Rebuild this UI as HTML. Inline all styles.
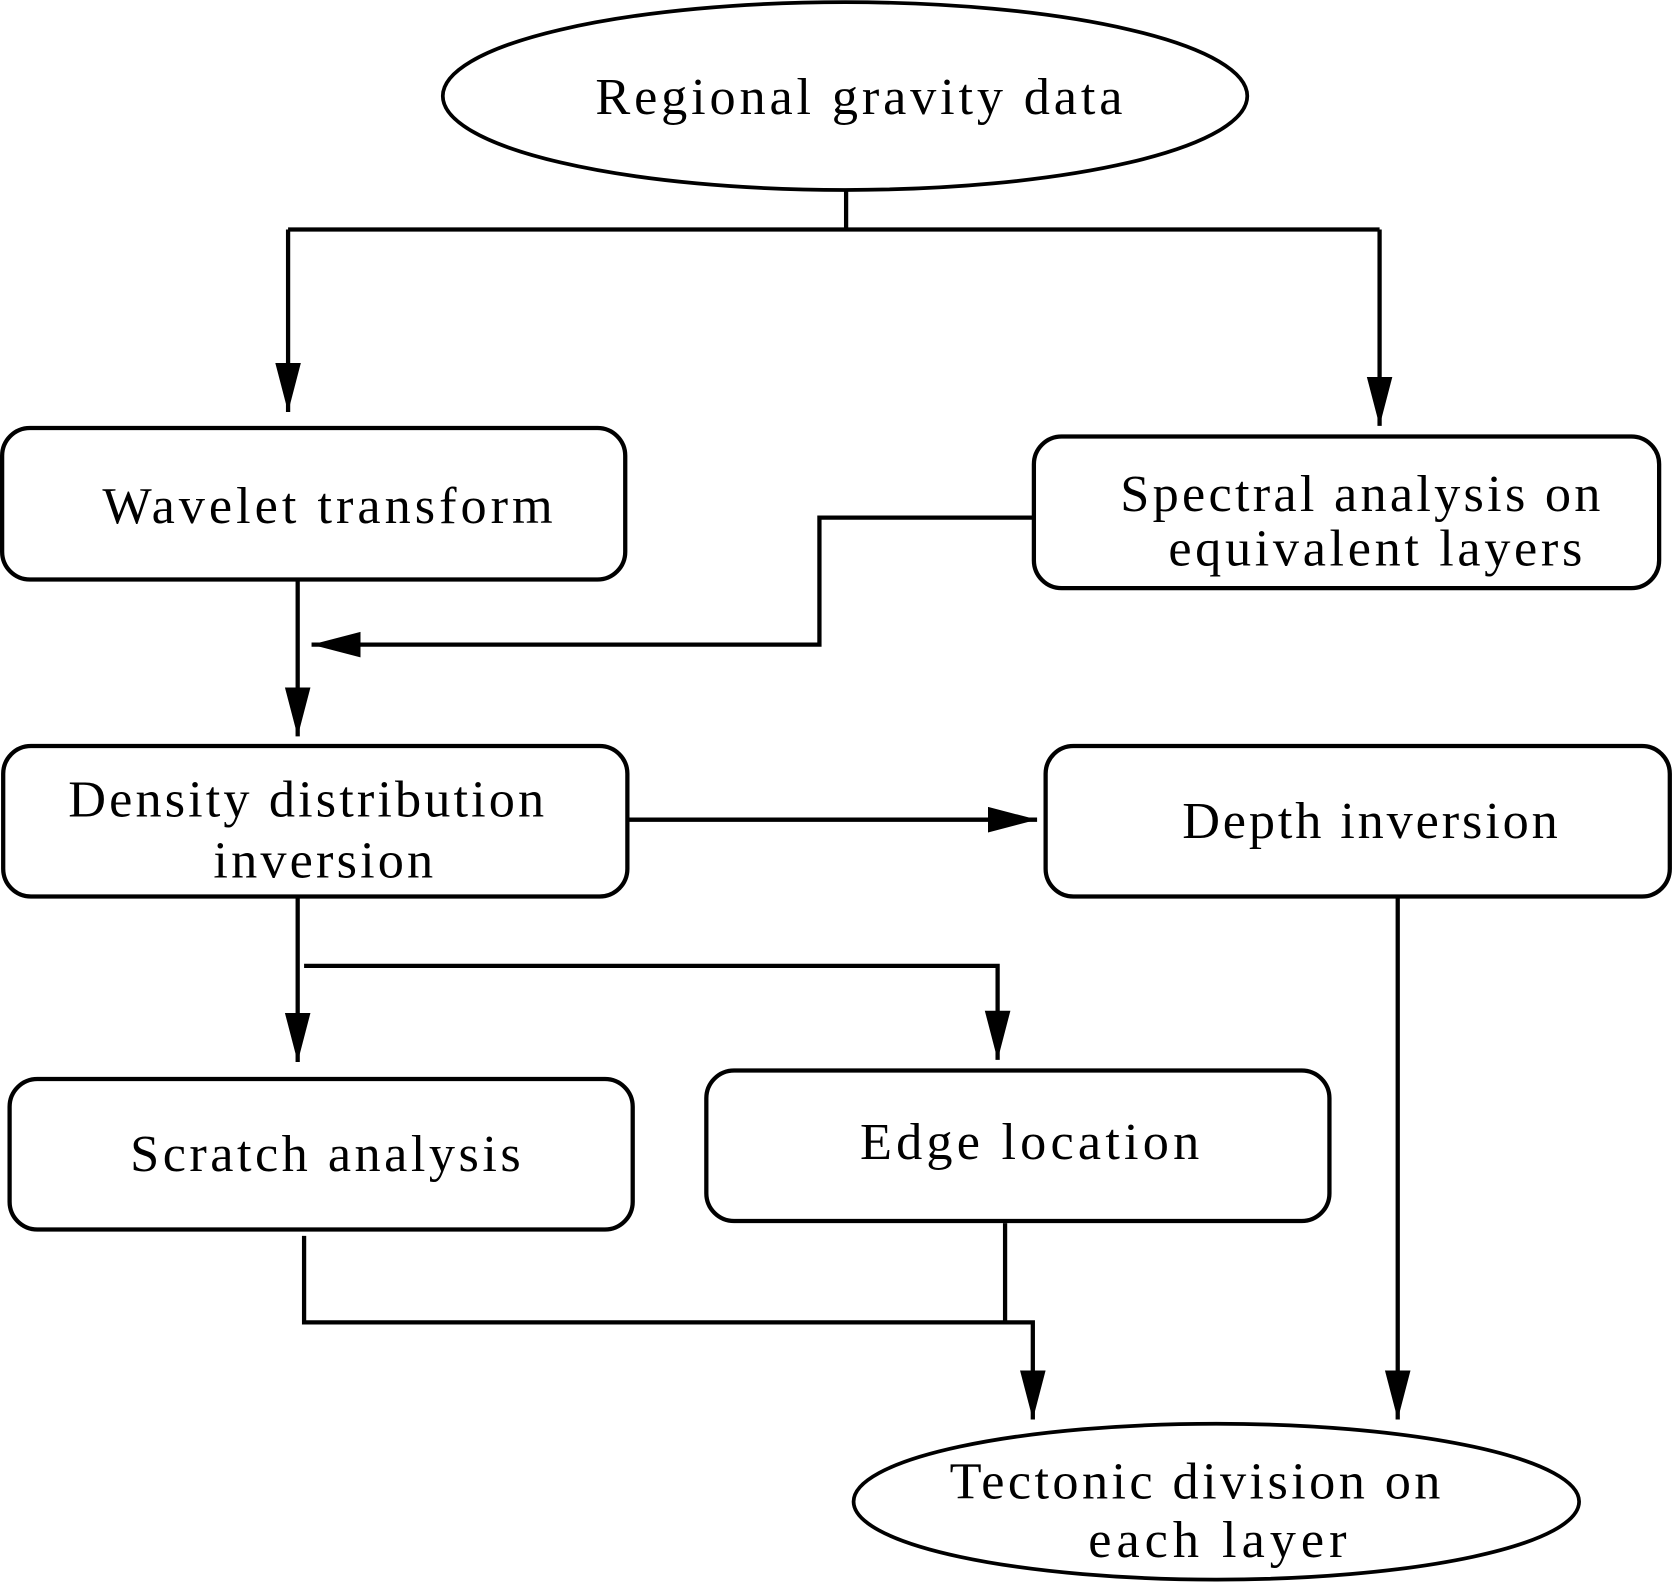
<!DOCTYPE html>
<html><head><style>html,body{margin:0;padding:0;background:#fff}svg{display:block}</style></head>
<body>
<svg width="1673" height="1586" viewBox="0 0 1568 1486" preserveAspectRatio="none" xmlns="http://www.w3.org/2000/svg">
<defs>
<marker id="a" markerUnits="userSpaceOnUse" markerWidth="50" markerHeight="30" refX="46" refY="12" orient="auto">
<path d="M0,0 L46,12 L0,24 Z" fill="#000"/>
</marker>
</defs>
<g fill="none" stroke="#000" stroke-width="4">
<ellipse cx="792" cy="90" rx="377" ry="88" stroke-width="3.5"/>
<rect x="2" y="401" width="584" height="142" rx="26"/>
<rect x="969" y="409" width="586" height="142" rx="26"/>
<rect x="3" y="699" width="585" height="141" rx="26"/>
<rect x="980" y="699" width="585" height="141" rx="26"/>
<rect x="9" y="1011" width="584" height="141" rx="26"/>
<rect x="662" y="1003" width="584" height="141" rx="26"/>
<ellipse cx="1140" cy="1407" rx="340" ry="73" stroke-width="3.5"/>
<path d="M793,178 V215"/>
<path d="M270,215 H1293"/>
<path d="M270,215 V386" marker-end="url(#a)"/>
<path d="M1293,215 V399" marker-end="url(#a)"/>
<path d="M969,485 H768 V604 H292" marker-end="url(#a)"/>
<path d="M279,543 V690" marker-end="url(#a)"/>
<path d="M590,768 H972" marker-end="url(#a)"/>
<path d="M279,840 V995" marker-end="url(#a)"/>
<path d="M285,905 H935 V993" marker-end="url(#a)"/>
<path d="M285,1158 V1239 H968 V1330" marker-end="url(#a)"/>
<path d="M942,1146 V1239"/>
<path d="M1310,840 V1330" marker-end="url(#a)"/>
</g>
<g font-family="'Liberation Serif', serif" font-size="49" fill="#000" lengthAdjust="spacing">
<text x="558" y="107" textLength="494" lengthAdjust="spacing">Regional gravity data</text>
<text x="96" y="490" textLength="422" lengthAdjust="spacing">Wavelet transform</text>
<text x="1050" y="479" textLength="450" lengthAdjust="spacing">Spectral analysis on</text>
<text x="1095" y="530" textLength="388" lengthAdjust="spacing">equivalent layers</text>
<text x="64" y="765" textLength="446" lengthAdjust="spacing">Density distribution</text>
<text x="200" y="822" textLength="206" lengthAdjust="spacing">inversion</text>
<text x="1108" y="785" textLength="352" lengthAdjust="spacing">Depth inversion</text>
<text x="122" y="1097" textLength="366" lengthAdjust="spacing">Scratch analysis</text>
<text x="806" y="1086" textLength="318" lengthAdjust="spacing">Edge location</text>
<text x="890" y="1404" textLength="460" lengthAdjust="spacing">Tectonic division on</text>
<text x="1020" y="1459" textLength="242" lengthAdjust="spacing">each layer</text>
</g>
</svg>
</body></html>
